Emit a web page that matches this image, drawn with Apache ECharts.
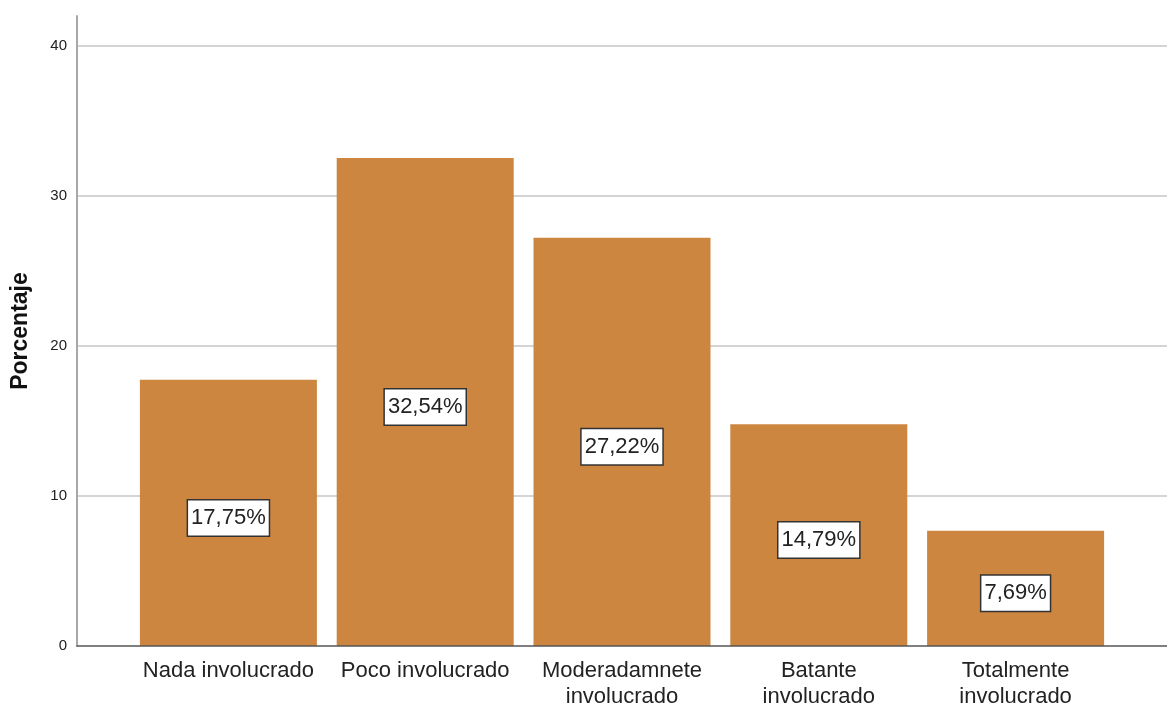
<!DOCTYPE html>
<html>
<head>
<meta charset="utf-8">
<script src="https://cdn.jsdelivr.net/npm/echarts@6/dist/echarts.min.js"></script>
<style>html,body{margin:0;padding:0;background:#fff}#c{width:1167px;height:710px}</style>
</head>
<body>
<div id="c"></div>
<script>
const categories = ['Nada involucrado', 'Poco involucrado', 'Moderadamnete\ninvolucrado', 'Batante\ninvolucrado', 'Totalmente\ninvolucrado'];
const values = [17.75, 32.54, 27.22, 14.79, 7.69];
const yTicks = [0, 10, 20, 30, 40];

const chart = echarts.init(document.getElementById('c'));
const FONT = '"Liberation Sans", Arial, sans-serif';
chart.setOption({
  animation: false,
  grid: [
    { left: 130, right: 53, top: 16, bottom: 64 },
    { left: 77, right: 0, top: 16, bottom: 64 }
  ],
  xAxis: [
    {
      type: 'category', gridIndex: 0, data: categories,
      axisLine: { show: false }, axisTick: { show: false },
      axisLabel: { color: '#222', fontFamily: FONT, fontSize: 22, lineHeight: 26, margin: 12, interval: 0 }
    },
    {
      type: 'value', gridIndex: 1, min: 0, max: 1,
      axisLine: { show: true, lineStyle: { color: '#555', width: 1.5 } },
      axisTick: { show: false }, axisLabel: { show: false }, splitLine: { show: false },
      z: 5
    }
  ],
  yAxis: [
    { type: 'value', gridIndex: 0, min: 0, max: 42, show: false, splitLine: { show: false } },
    {
      type: 'value', gridIndex: 1, min: 0, max: 42, interval: 10,
      name: 'Porcentaje', nameLocation: 'middle', nameGap: 45, nameRotate: 90,
      nameTextStyle: { color: '#111', fontFamily: FONT, fontSize: 23, fontWeight: 'bold' },
      axisLine: { show: true, lineStyle: { color: '#a8a8a8', width: 2 } },
      axisTick: { show: false },
      axisLabel: {
        color: '#222', fontFamily: FONT, fontSize: 15, margin: 10,
        showMaxLabel: false,
        formatter: v => (yTicks.indexOf(v) >= 0 ? String(v) : '')
      },
      splitLine: { show: true, showMinLine: false, showMaxLine: false, lineStyle: { color: '#d4d4d4', width: 2 } }
    }
  ],
  series: [{
    type: 'bar', xAxisIndex: 0, yAxisIndex: 0, data: values,
    barWidth: 177,
    itemStyle: { color: '#CD8640' },
    label: {
      show: true, position: 'inside', offset: [0, 5],
      formatter: p => p.value.toFixed(2).replace('.', ',') + '%',
      color: '#222', fontFamily: FONT, fontSize: 22,
      backgroundColor: '#fff', borderColor: '#333', borderWidth: 1.5,
      padding: [7, 3, 6, 3]
    }
  }]
});
</script>
</body>
</html>
